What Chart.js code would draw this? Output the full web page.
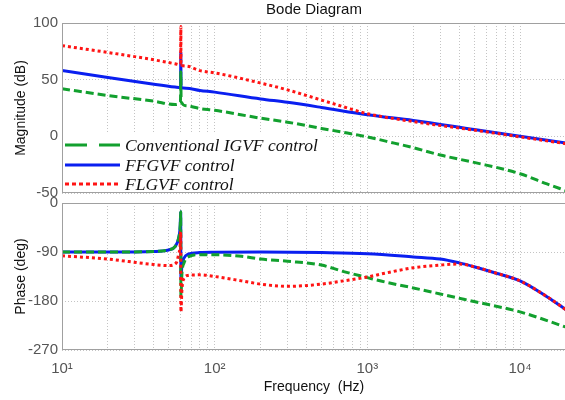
<!DOCTYPE html>
<html>
<head>
<meta charset="utf-8">
<script src="https://cdn.jsdelivr.net/npm/chart.js@4"></script>
<style>
  html, body { margin: 0; padding: 0; background: #fff; overflow: hidden; }
  #magChart { position: absolute; left: 0; top: 0; }
  #phaseChart { position: absolute; left: 0; top: 197px; }
</style>
</head>
<body>
<canvas id="magChart" width="566" height="197"></canvas>
<canvas id="phaseChart" width="566" height="203"></canvas>
<script>
// ---------- data ----------
const seriesNames = ["Conventional IGVF control", "FFGVF control", "FLGVF control"];

// magnitude (dB)
const magFreqGreen = [10, 20, 40, 55, 59.7, 60, 60.3, 65, 80, 100, 200, 300, 500, 700, 1000, 1500, 2000, 3000, 5000, 10000, 15000, 20000];
const magGreen     = [42, 36, 31, 28, 30.5, 57, 30.5, 27, 24.5, 23, 16, 12.5, 7, 3.5, -0.5, -6, -10, -16.5, -23, -33, -42, -48];

const magFreqBlue  = [10, 20, 40, 55, 59.8, 60, 60.2, 65, 80, 100, 200, 300, 500, 1000, 2000, 5000, 10000, 20000];
const magBlue      = [58, 52, 46, 43.5, 43, 74, 43, 42.5, 40.5, 39, 33, 30, 25.5, 19, 14, 6, 0, -6];

const magFreqRed   = [10, 20, 40, 55, 59.8, 60, 60.2, 65, 80, 100, 200, 300, 500, 700, 1000, 2000, 5000, 10000, 20000];
const magRed       = [80, 74, 67.5, 64, 63, 97, 63, 62, 58, 56, 47, 41, 32, 26, 20, 13, 5.5, -0.5, -6.5];

// phase (deg)
const phFreqGreen  = [10, 20, 40, 50, 55, 58, 59.5, 59.9, 60.1, 61, 63, 67, 80, 100, 150, 200, 300, 500, 700, 1000, 1300, 2000, 3000, 5000, 10000, 20000];
const phGreen      = [-90, -90, -89, -86, -80, -65, -40, -16, -172, -130, -110, -99, -95, -95, -98, -103, -107, -114, -126, -137, -145, -156, -167, -181, -200, -228];

const phFreqBlue   = [10, 20, 40, 50, 55, 58, 59.5, 59.9, 60.1, 61, 63, 67, 80, 100, 200, 500, 1000, 2000, 3000, 4000, 5000, 7000, 10000, 15000, 20000];
const phBlue       = [-90, -90, -89, -86, -80, -65, -40, -16, -138, -115, -101, -94, -91, -90.5, -90, -91, -93, -99, -103, -110, -117, -129, -143, -172, -196];

const phFreqRed    = [10, 20, 37, 50, 56, 58, 59.5, 59.9, 60.1, 61, 63, 67, 80, 100, 150, 200, 300, 500, 700, 1000, 1300, 2000, 3000, 4000, 5000, 7000, 10000, 15000, 20000];
const phRed        = [-97, -103, -112, -115, -110, -95, -75, -53, -200, -160, -138, -133, -132, -135, -143, -149, -153, -149, -143, -136, -129, -119, -114, -112, -117, -129, -143, -172, -196];

// axis ticks
const magTicks = [-50, 0, 50, 100];
const phaseTicks = [-270, -180, -90, 0];
const decadeTicks = [10, 100, 1000, 10000];
const decadeLabels = ["10\u00b9", "10\u00b2", "10\u00b3", "10\u2074"];

// ---------- styles ----------
const GREEN = "#12a02e";
const BLUE = "#0a1ff0";
const RED = "#ff1414";
const SANS = "'Liberation Sans', Arial, sans-serif";

function pts(xs, ys) {
  return xs.map((x, i) => ({ x: x, y: ys[i] }));
}

function minorTicks() {
  const out = [];
  for (let e = 1; e <= 4; e++) {
    for (let m = 1; m <= 9; m++) {
      const v = m * Math.pow(10, e);
      if (v <= 20000) out.push({ value: v });
    }
  }
  return out;
}

// grey box around each axes, like matlab
const framePlugin = {
  id: "frame",
  afterDraw(chart) {
    const { ctx, chartArea: a } = chart;
    ctx.save();
    ctx.strokeStyle = "#a0a0a0";
    ctx.lineWidth = 1;
    ctx.strokeRect(a.left + 0.5, a.top + 0.5, a.right - a.left - 1, a.bottom - a.top - 1);
    ctx.restore();
  }
};

// title centred over the plot area, not the canvas
const titlePlugin = {
  id: "bodeTitle",
  afterDraw(chart) {
    const { ctx, chartArea: a } = chart;
    ctx.save();
    ctx.fillStyle = "#111";
    ctx.font = "15px " + SANS;
    ctx.textAlign = "center";
    ctx.textBaseline = "middle";
    ctx.fillText("Bode Diagram", (a.left + a.right) / 2, 10);
    ctx.restore();
  }
};

const legendPlugin = {
  id: "bodeLegend",
  afterDatasetsDraw(chart) {
    const ctx = chart.ctx;
    ctx.save();
    ctx.fillStyle = "#fff";
    ctx.fillRect(63, 134, 262, 58);
    const rows = [
      { y: 145, color: GREEN, dash: [22, 12] },
      { y: 165, color: BLUE, dash: [] },
      { y: 184, color: RED, dash: [4, 3] }
    ];
    rows.forEach((r, i) => {
      ctx.strokeStyle = r.color;
      ctx.lineWidth = 3;
      ctx.setLineDash(r.dash);
      ctx.beginPath();
      ctx.moveTo(65, r.y);
      ctx.lineTo(120, r.y);
      ctx.stroke();
      ctx.setLineDash([]);
      ctx.fillStyle = "#111";
      ctx.font = "italic 17.5px 'Liberation Serif', 'Times New Roman', serif";
      ctx.textBaseline = "middle";
      ctx.fillText(seriesNames[i], 125, r.y + 1);
    });
    ctx.restore();
  }
};

function makeDatasets(gx, gy, bx, by, rx, ry) {
  return [
    { data: pts(rx, ry), borderColor: RED, borderWidth: 3, borderDash: [3, 3], order: 0 },
    { data: pts(gx, gy), borderColor: GREEN, borderWidth: 3, borderDash: [8, 4], order: 1 },
    { data: pts(bx, by), borderColor: BLUE, borderWidth: 3, order: 2 }
  ];
}

function xScale(isBottom) {
  return {
    type: "logarithmic",
    min: 10,
    max: 20000,
    afterBuildTicks: s => { s.ticks = minorTicks(); },
    afterFit: s => {
      s.height = isBottom ? 50 : 0;
      s.paddingLeft = 0;
      s.paddingRight = 0;
    },
    grid: { color: "#c4c4c4", drawTicks: false },
    border: { display: false, dash: [1, 2] },
    ticks: {
      display: isBottom,
      autoSkip: false,
      maxRotation: 0,
      padding: 10,
      color: "#555",
      font: { family: SANS, size: 15 },
      callback: v => {
        const k = decadeTicks.indexOf(v);
        return k >= 0 ? decadeLabels[k] : "";
      }
    },
    title: {
      display: isBottom,
      text: "Frequency  (Hz)",
      color: "#111",
      font: { family: SANS, size: 14 },
      padding: { top: 0, bottom: 4 }
    }
  };
}

function yScale(min, max, ticks, label) {
  return {
    min: min,
    max: max,
    afterBuildTicks: s => { s.ticks = ticks.map(v => ({ value: v })); },
    afterFit: s => {
      s.width = 62;
      s.paddingTop = 0;
      s.paddingBottom = 0;
    },
    grid: { color: "#c4c4c4", drawTicks: false },
    border: { display: false, dash: [1, 2] },
    ticks: { padding: 4, color: "#555", font: { family: SANS, size: 15 } },
    title: {
      display: true,
      text: label,
      color: "#111",
      font: { family: SANS, size: 14 },
      padding: { top: 13, bottom: 0 }
    }
  };
}

const common = {
  responsive: false,
  animation: false,
  elements: {
    point: { radius: 0 },
    line: { cubicInterpolationMode: "monotone", fill: false, borderJoinStyle: "round" }
  }
};

new Chart(document.getElementById("magChart"), {
  type: "line",
  data: { datasets: makeDatasets(magFreqGreen, magGreen, magFreqBlue, magBlue, magFreqRed, magRed) },
  options: Object.assign({}, common, {
    layout: { padding: { top: 23, bottom: 4, left: 0, right: 0 } },
    plugins: { legend: { display: false }, tooltip: { enabled: false } },
    scales: { x: xScale(false), y: yScale(-50, 100, magTicks, "Magnitude (dB)") }
  }),
  plugins: [legendPlugin, framePlugin, titlePlugin]
});

new Chart(document.getElementById("phaseChart"), {
  type: "line",
  data: { datasets: makeDatasets(phFreqGreen, phGreen, phFreqBlue, phBlue, phFreqRed, phRed) },
  options: Object.assign({}, common, {
    layout: { padding: { top: 6, bottom: 0, left: 0, right: 0 } },
    plugins: { legend: { display: false }, tooltip: { enabled: false } },
    scales: { x: xScale(true), y: yScale(-270, 0, phaseTicks, "Phase (deg)") }
  }),
  plugins: [framePlugin]
});
</script>
</body>
</html>
